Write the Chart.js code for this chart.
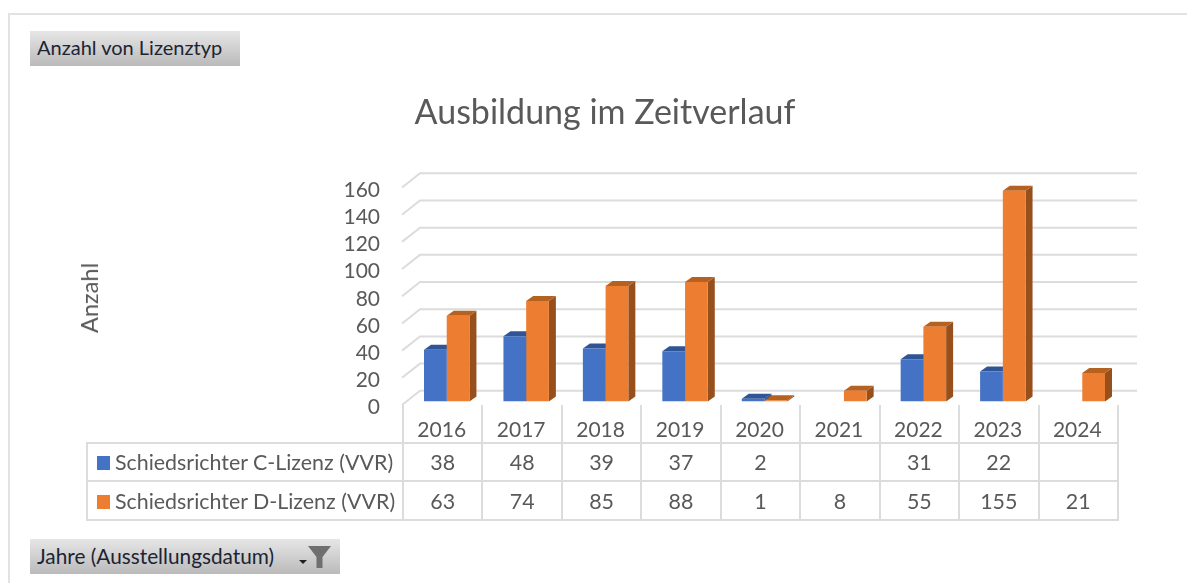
<!DOCTYPE html>
<html lang="de">
<head>
<meta charset="utf-8">
<title>Ausbildung im Zeitverlauf</title>
<script src="https://cdn.jsdelivr.net/npm/chart.js@4/dist/chart.umd.min.js"></script>
<style>
  html, body { margin: 0; padding: 0; background: #fff; width: 1187px; height: 583px; overflow: hidden; font-family: Lato, sans-serif; }
  #chart { position: absolute; left: 0; top: 0; }
  #frame { position: absolute; left: 8px; top: 13px; right: -4px; bottom: -4px; border: 2px solid #e2e2e2; }
  .field { position: absolute; left: 30px; height: 35px; line-height: 33px; padding-left: 7px; box-sizing: border-box;
           background: linear-gradient(#e6e6e6, #bababa); color: #1c2433; font-size: 20.5px; }
  #field1 { top: 31px; width: 210px; font-size: 20px; }
  #field2 { top: 539px; width: 310px; font-size: 20.8px; }
  #field2 svg { position: absolute; left: 266px; top: 5px; }
  #axisTitle { position: absolute; left: 89px; top: 298px; transform: translate(-50%, -50%) rotate(-90deg);
               color: #595959; font-size: 23.6px; white-space: nowrap; }
  #legendTable { position: absolute; left: 86px; top: 405px; width: 1031px; table-layout: fixed; border-collapse: collapse;
                 color: #595959; font-size: 21.4px; }
  #legendTable td { border: 2px solid #dcdcdc; padding: 0; text-align: center; height: 36px; }
  #legendTable tr:first-child td { border-top: none; height: 37px; }
  #legendTable tr:last-child td { height: 37px; }
  #legendTable tr:first-child td:first-child { border-left: none; border-bottom: 2px solid #dcdcdc; }
  #legendTable td.name { text-align: left; white-space: nowrap; padding-left: 9px; }
  .swatch { display: inline-block; width: 13px; height: 14px; margin-right: 5px; }
</style>
</head>
<body>
<canvas id="chart" width="1187" height="583"></canvas>
<div id="frame"></div>
<div class="field" id="field1">Anzahl von Lizenztyp</div>
<div class="field" id="field2">Jahre (Ausstellungsdatum)
  <svg width="40" height="30" viewBox="0 0 40 30">
    <path d="M3 16 h8 l-4 4 z" fill="#222"/>
    <path d="M12 2 h23 l-8.5 11 v11 h-6 v-11 z" fill="#6f6f6f"/>
  </svg>
</div>
<div id="axisTitle">Anzahl</div>
<table id="legendTable"></table>

<script>
const years = ['2016', '2017', '2018', '2019', '2020', '2021', '2022', '2023', '2024'];
const cLizenz = [38, 48, 39, 37, 2, null, 31, 22, null];
const dLizenz = [63, 74, 85, 88, 1, 8, 55, 155, 21];
const seriesNames = ['Schiedsrichter C-Lizenz (VVR)', 'Schiedsrichter D-Lizenz (VVR)'];
const seriesColors = ['#4472C4', '#ED7D31'];
const topColors = ['#2F5597', '#B5611F'];
const sideColors = ['#2B4F8C', '#97501C'];

const FONT = 'Lato, sans-serif';
const GREY = '#595959';

// bars and back wall are offset like the 3D look of the original
const depth = {x: 7, y: 5};
const wall = {front: 402, back: 420, right: 1137};

const fake3d = {
  id: 'fake3d',
  beforeDatasetsDraw(chart) {
    const c = chart.ctx;
    const y = chart.scales.y;
    c.save();
    c.strokeStyle = '#dcdcdc';
    c.lineWidth = 2;
    y.ticks.forEach(t => {
      const p = y.getPixelForValue(t.value);
      c.beginPath();
      c.moveTo(wall.front, p + 3.5);
      c.lineTo(wall.back, p - 10.7);
      c.lineTo(wall.right, p - 10.7);
      c.stroke();
    });
    chart.data.datasets.forEach((ds, d) => {
      chart.getDatasetMeta(d).data.forEach((el, i) => {
        if (ds.data[i] == null) return;
        const l = el.x - el.width / 2;
        const r = el.x + el.width / 2;
        c.fillStyle = sideColors[d];
        c.beginPath();
        c.moveTo(r, el.y);
        c.lineTo(r + depth.x, el.y - depth.y);
        c.lineTo(r + depth.x, el.base - depth.y);
        c.lineTo(r, el.base);
        c.fill();
        c.fillStyle = topColors[d];
        c.beginPath();
        c.moveTo(l, el.y);
        c.lineTo(l + depth.x, el.y - depth.y);
        c.lineTo(r + depth.x, el.y - depth.y);
        c.lineTo(r, el.y);
        c.fill();
      });
    });
    c.restore();
  }
};

new Chart(document.getElementById('chart'), {
  type: 'bar',
  data: {
    labels: years,
    datasets: [
      {label: seriesNames[0], data: cLizenz, backgroundColor: seriesColors[0]},
      {label: seriesNames[1], data: dLizenz, backgroundColor: seriesColors[1]}
    ]
  },
  plugins: [fake3d],
  options: {
    responsive: false,
    animation: false,
    categoryPercentage: 0.572,
    barPercentage: 1,
    layout: {padding: {left: 88, right: 65, top: 90, bottom: 131.5}},
    plugins: {
      legend: {display: false},
      tooltip: {enabled: false},
      title: {
        display: true,
        text: 'Ausbildung im Zeitverlauf',
        color: GREY,
        font: {family: FONT, size: 34, weight: 'normal'},
        padding: {top: 2.6, bottom: 50.6}
      }
    },
    scales: {
      x: {
        afterFit: s => { s.height = 50; },
        grid: {display: false},
        border: {display: false},
        ticks: {color: GREY, font: {family: FONT, size: 21}, labelOffset: -5, padding: 8, maxRotation: 0}
      },
      y: {
        min: 0,
        max: 160,
        afterFit: s => { s.width = 319; },
        grid: {display: false, drawTicks: false},
        border: {display: false},
        ticks: {stepSize: 20, autoSkip: false, color: GREY, font: {family: FONT, size: 21}, labelOffset: 6, padding: 27}
      }
    }
  }
});

// data table below the plot
const table = document.getElementById('legendTable');
const colgroup = document.createElement('colgroup');
colgroup.innerHTML = '<col style="width:316px">' + years.map(() => '<col style="width:79.44px">').join('');
table.appendChild(colgroup);
const headerRow = table.insertRow();
headerRow.insertCell();
years.forEach(() => headerRow.insertCell());
[cLizenz, dLizenz].forEach((values, s) => {
  const row = table.insertRow();
  const name = row.insertCell();
  name.className = 'name';
  name.innerHTML = '<span class="swatch" style="background:' + seriesColors[s] + '"></span>' + seriesNames[s];
  values.forEach(v => { row.insertCell().textContent = v == null ? '' : v; });
});
</script>
</body>
</html>
